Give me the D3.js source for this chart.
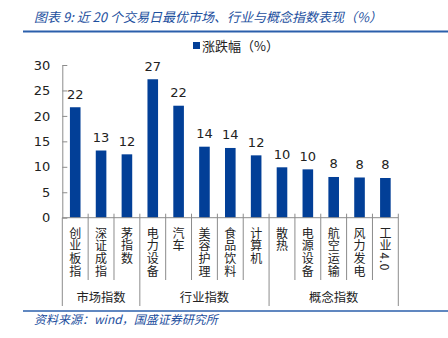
<!DOCTYPE html>
<html><head><meta charset="utf-8">
<script src="https://cdn.jsdelivr.net/npm/d3@7"></script>
<style>
html,body{margin:0;padding:0;background:#fff;}
svg{display:block;}
.vt{writing-mode:vertical-rl;text-orientation:mixed;}
</style></head>
<body>
<svg id="c" width="448" height="338"></svg>
<script>
const categories = ["创业板指","深证成指","茅指数","电力设备","汽车","美容护理","食品饮料","计算机","散热","电源设备","航空运输","风力发电","工业4.0"];
const values = [21.7, 13.2, 12.45, 27.2, 22.0, 13.95, 13.7, 12.25, 9.9, 9.5, 8.0, 7.9, 7.8];
const groupNames = ["市场指数","行业指数","概念指数"];
const groupSizes = [3,5,5];
const yTicks = [0,5,10,15,20,25,30];
const seriesName = "涨跌幅（%）";
const titleText = "图表 9:  近 20 个交易日最优市场、行业与概念指数表现（%）";
const sourceText = "资料来源：wind，国盛证券研究所";

const CJK = "'Noto Sans CJK SC', sans-serif";
const NUM = "'DejaVu Sans', sans-serif";
const barColor = "#023f97";
const blue = "#1d4f9e";
const axisColor = "#8c8c8c";

const svg = d3.select("#c");
const plotLeft = 62.3, plotRight = 398.3, plotBase = 217.7, plotTop = 65;

const x = d3.scaleBand().domain(categories).range([plotLeft, plotRight]).padding(0);
const y = d3.scaleLinear().domain([0, 30]).range([plotBase, plotTop]);

// title
svg.append("text").attr("x", 34).attr("y", 22)
  .attr("font-family", CJK).attr("font-size", 13).attr("font-style", "italic")
  .attr("fill", blue).text(titleText);
svg.append("line").attr("x1", 23).attr("x2", 448).attr("y1", 31.5).attr("y2", 31.5)
  .attr("stroke", "#2b5fab").attr("stroke-width", 2);

// legend
svg.append("rect").attr("x", 193).attr("y", 42).attr("width", 7).attr("height", 7).attr("fill", barColor);
svg.append("text").attr("x", 202).attr("y", 50.5)
  .attr("font-family", CJK).attr("font-size", 13).attr("fill", "#222").text(seriesName);

// y axis
const yAxis = d3.axisLeft(y).tickValues(yTicks).tickSizeInner(-5).tickSizeOuter(0).tickPadding(12);
const gy = svg.append("g").attr("transform", `translate(${plotLeft},0)`).call(yAxis);
gy.select(".domain").attr("stroke", axisColor);
gy.selectAll(".tick line").attr("stroke", axisColor);
gy.selectAll(".tick text").attr("font-family", NUM).attr("font-size", 13).attr("fill", "#222");

// bars
const bw = x.bandwidth() * 0.41;
svg.append("g").selectAll("rect").data(values).join("rect")
  .attr("x", (d, i) => x(categories[i]) + (x.bandwidth() - bw) / 2)
  .attr("y", d => y(d))
  .attr("width", bw)
  .attr("height", d => y(0) - y(d))
  .attr("fill", barColor);

// value labels
const fmt = d3.format(".0f");
svg.append("g").selectAll("text").data(values).join("text")
  .attr("x", (d, i) => x(categories[i]) + x.bandwidth() / 2)
  .attr("y", d => y(d) - 8.5)
  .attr("text-anchor", "middle")
  .attr("font-family", NUM).attr("font-size", 13).attr("fill", "#222")
  .text(d => fmt(d));

// category axis baseline
svg.append("line").attr("x1", plotLeft).attr("x2", plotRight).attr("y1", plotBase).attr("y2", plotBase)
  .attr("stroke", axisColor);

// group boundaries
const groupStarts = [];
let acc = 0;
groupSizes.forEach(s => { groupStarts.push(acc); acc += s; });
const boundaryIdx = d3.range(0, categories.length + 1);
const groupBoundaryIdx = new Set([...groupStarts, categories.length]);
const pos = i => i < categories.length ? x(categories[i]) : x(categories[categories.length - 1]) + x.bandwidth();
svg.append("g").selectAll("line").data(boundaryIdx).join("line")
  .attr("x1", i => pos(i)).attr("x2", i => pos(i))
  .attr("y1", i => i === 0 ? plotBase : plotBase - 4)
  .attr("y2", i => groupBoundaryIdx.has(i) ? 306 : 280)
  .attr("stroke", axisColor);

// category labels (vertical writing)
svg.append("g").selectAll("text").data(categories).join("text")
  .attr("class", "vt")
  .attr("x", c => x(c) + x.bandwidth() / 2)
  .attr("y", 227)
  .attr("font-family", CJK).attr("font-size", 12)
  .attr("letter-spacing", 0.7)
  .attr("fill", "#222")
  .text(c => c);

// group labels
groupNames.forEach((g, k) => {
  const a = pos(groupStarts[k]), b = pos(groupStarts[k] + groupSizes[k]);
  svg.append("text").attr("x", (a + b) / 2).attr("y", 297)
    .attr("text-anchor", "middle").attr("dominant-baseline", "central")
    .attr("font-family", CJK).attr("font-size", 12.3).attr("fill", "#222").text(g);
});

// bottom line + source
svg.append("line").attr("x1", 23).attr("x2", 448).attr("y1", 311).attr("y2", 311)
  .attr("stroke", "#2b5fab").attr("stroke-width", 1.5);
svg.append("text").attr("x", 34).attr("y", 324)
  .attr("font-family", CJK).attr("font-size", 12).attr("font-style", "italic")
  .attr("fill", blue).text(sourceText);
</script>
</body></html>
